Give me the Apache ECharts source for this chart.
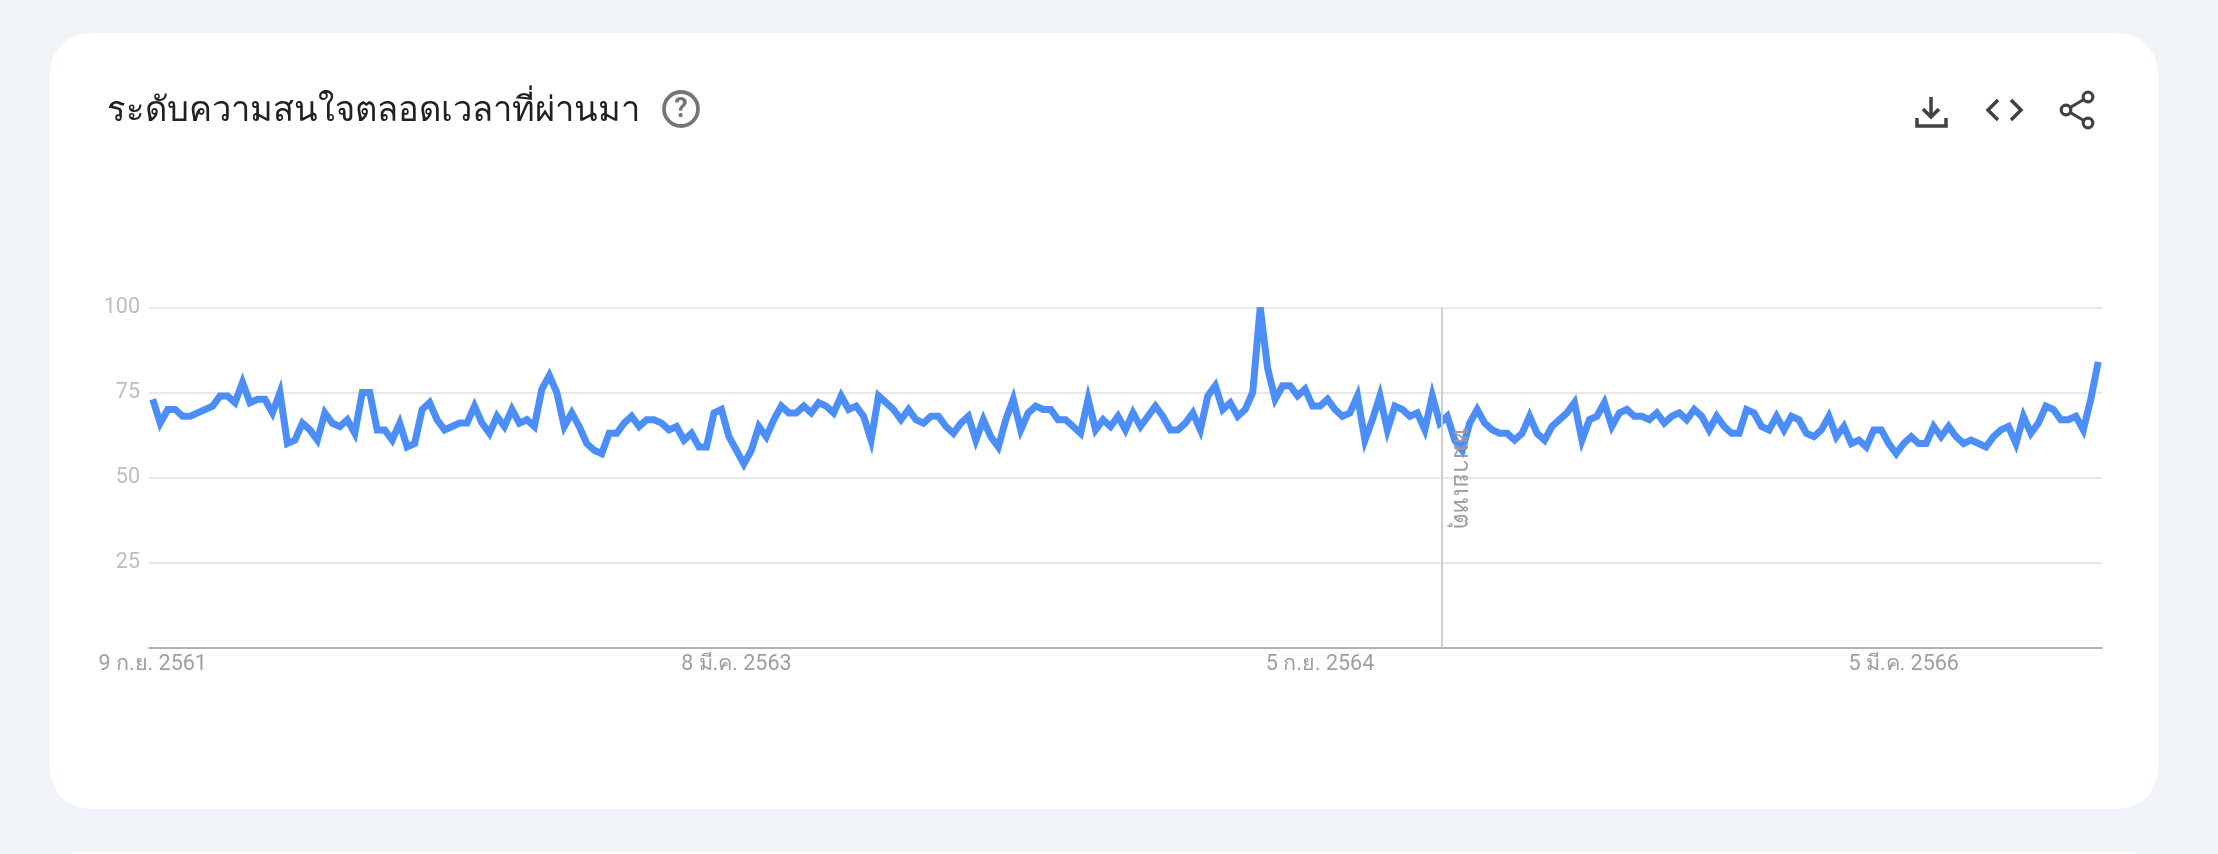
<!DOCTYPE html>
<html>
<head>
<meta charset="utf-8">
<title>ระดับความสนใจตลอดเวลาที่ผ่านมา</title>
<style>
html,body{margin:0;padding:0;background:#f0f3f8;}
#main{width:2218px;height:854px;}
</style>
<script src="https://cdn.jsdelivr.net/npm/echarts@6/dist/echarts.min.js"></script>
</head>
<body>
<div id="main"></div>
<script>
var chart_title = 'ระดับความสนใจตลอดเวลาที่ผ่านมา';
var note_label = 'หมายเหตุ';

// ค่ารายสัปดาห์ อ่านจากภาพ เริ่ม 9 ก.ย. 2561
var interest = [
    73,66,70,70,68,68,69,70,71,74,74,72,78,72,73,73,69,75,60,61,
    66,64,61,69,66,65,67,63,75,75,64,64,61,66,59,60,70,72,67,64,
    65,66,66,71,66,63,68,65,70,66,67,65,76,80,75,65,69,65,60,58,
    57,63,63,66,68,65,67,67,66,64,65,61,63,59,59,69,70,62,58,54,
    58,65,62,67,71,69,69,71,69,72,71,69,74,70,71,68,61,74,72,70,
    67,70,67,66,68,68,65,63,66,68,61,67,62,59,67,73,64,69,71,70,
    70,67,67,65,63,73,64,67,65,68,64,69,65,68,71,68,64,64,66,69,
    64,74,77,70,72,68,70,75,100,82,73,77,77,74,76,71,71,73,70,68,
    69,74,61,67,74,64,71,70,68,69,64,74,66,68,61,58,66,70,66,64,
    63,63,61,63,68,63,61,65,67,69,72,61,67,68,72,65,69,70,68,68,
    67,69,66,68,69,67,70,68,64,68,65,63,63,70,69,65,64,68,64,68,
    67,63,62,64,68,62,65,60,61,59,64,64,60,57,60,62,60,60,65,62,
    65,62,60,61,60,59,62,64,65,60,68,63,66,71,70,67,67,68,64,73,84
];
var y_ticks = [0, 25, 50, 75, 100];
// ตำแหน่งป้ายแกน x นับเป็นสัปดาห์
var x_tick_weeks = [0, 78, 156, 234];
var x_tick_labels = ['9 ก.ย. 2561', '8 มี.ค. 2563', '5 ก.ย. 2564', '5 มี.ค. 2566'];
var note_week = 172.2;

var points = [];
for (var i = 0; i < interest.length; i++) {
    points.push([i, interest[i]]);
}

var icon_color = '#424242';
function stroke_line(pts, width) {
    return {
        type: 'polyline',
        shape: { points: pts },
        style: { stroke: icon_color, lineWidth: width || 3.5, fill: null, lineJoin: 'miter' }
    };
}
function share_dot(x, y) {
    return {
        type: 'circle',
        shape: { cx: x, cy: y, r: 4.8 },
        style: { stroke: icon_color, lineWidth: 3.2, fill: '#fff' }
    };
}

var myChart = echarts.init(document.getElementById('main'));

var option = {
    animation: false,
    backgroundColor: '#f0f3f8',
    title: {
        text: chart_title,
        left: 102,
        top: 90,
        textStyle: { fontFamily: 'Roboto, "Noto Sans", sans-serif', fontSize: 34.5, fontWeight: 'normal', color: '#212121' }
    },
    grid: { left: 149, right: 116, top: 307.5, bottom: 206.5 },
    xAxis: {
        type: 'value',
        min: -0.5,
        max: 260.5,
        splitLine: { show: false },
        axisTick: { show: false },
        axisLine: { show: true, lineStyle: { color: '#9e9e9e', width: 1.5 } },
        axisLabel: {
            customValues: x_tick_weeks,
            formatter: function (v) { return x_tick_labels[x_tick_weeks.indexOf(v)]; },
            color: '#9e9e9e',
            fontFamily: 'Roboto, sans-serif',
            fontSize: 21.5,
            margin: 6
        }
    },
    yAxis: {
        type: 'value',
        min: 0,
        max: 100,
        interval: 25,
        axisLine: { show: false },
        axisTick: { show: false },
        splitLine: { lineStyle: { color: '#e0e0e0', width: 1.5 } },
        axisLabel: {
            formatter: function (v) { return v === y_ticks[0] ? '' : v; },
            color: '#bdbdbd',
            fontFamily: 'Roboto, sans-serif',
            fontSize: 21.5,
            margin: 9
        }
    },
    series: [{
        type: 'line',
        data: points,
        symbol: 'none',
        clip: true,
        lineStyle: { color: '#4b8ef7', width: 7, join: 'miter', miterLimit: 6, cap: 'butt' },
        markLine: {
            silent: true,
            symbol: 'none',
            label: { show: false },
            lineStyle: { color: '#cfcfcf', width: 2, type: 'solid' },
            data: [{ xAxis: note_week }]
        },
        markPoint: {
            silent: true,
            symbol: 'circle',
            symbolSize: 0,
            data: [{ coord: [174.8, 49.8] }],
            label: {
                show: true,
                position: 'inside',
                formatter: note_label,
                rotate: -90,
                color: '#9e9e9e',
                fontFamily: 'Roboto, sans-serif',
                fontSize: 25
            }
        }
    }],
    graphic: {
        elements: [
            { type: 'rect', z: -10, shape: { x: 50, y: 33, width: 2108, height: 776, r: 40 }, style: { fill: '#fff' } },
            { type: 'rect', z: -10, shape: { x: 50, y: 852, width: 2108, height: 60, r: 40 }, style: { fill: '#fff' } },
            // ปุ่มช่วยเหลือ
            { type: 'circle', shape: { cx: 681, cy: 109, r: 17 }, style: { stroke: '#757575', lineWidth: 3.8, fill: '#fff' } },
            { type: 'text', x: 681, y: 110, style: { text: '?', fill: '#757575', font: 'bold 27px Roboto, sans-serif', align: 'center', verticalAlign: 'middle' } },
            // ดาวน์โหลด
            stroke_line([[1931, 97], [1931, 116]]),
            stroke_line([[1923, 109], [1931, 117], [1939, 109]]),
            stroke_line([[1917, 118], [1917, 126], [1946, 126], [1946, 118]]),
            // ฝังโค้ด
            stroke_line([[1998, 100], [1988, 110], [1998, 120]]),
            stroke_line([[2011, 100], [2021, 110], [2011, 120]]),
            // แชร์
            stroke_line([[2088, 97], [2066, 110], [2088, 123]], 3),
            share_dot(2088, 97),
            share_dot(2066, 110),
            share_dot(2088, 123)
        ]
    }
};
myChart.setOption(option);
</script>
</body>
</html>
